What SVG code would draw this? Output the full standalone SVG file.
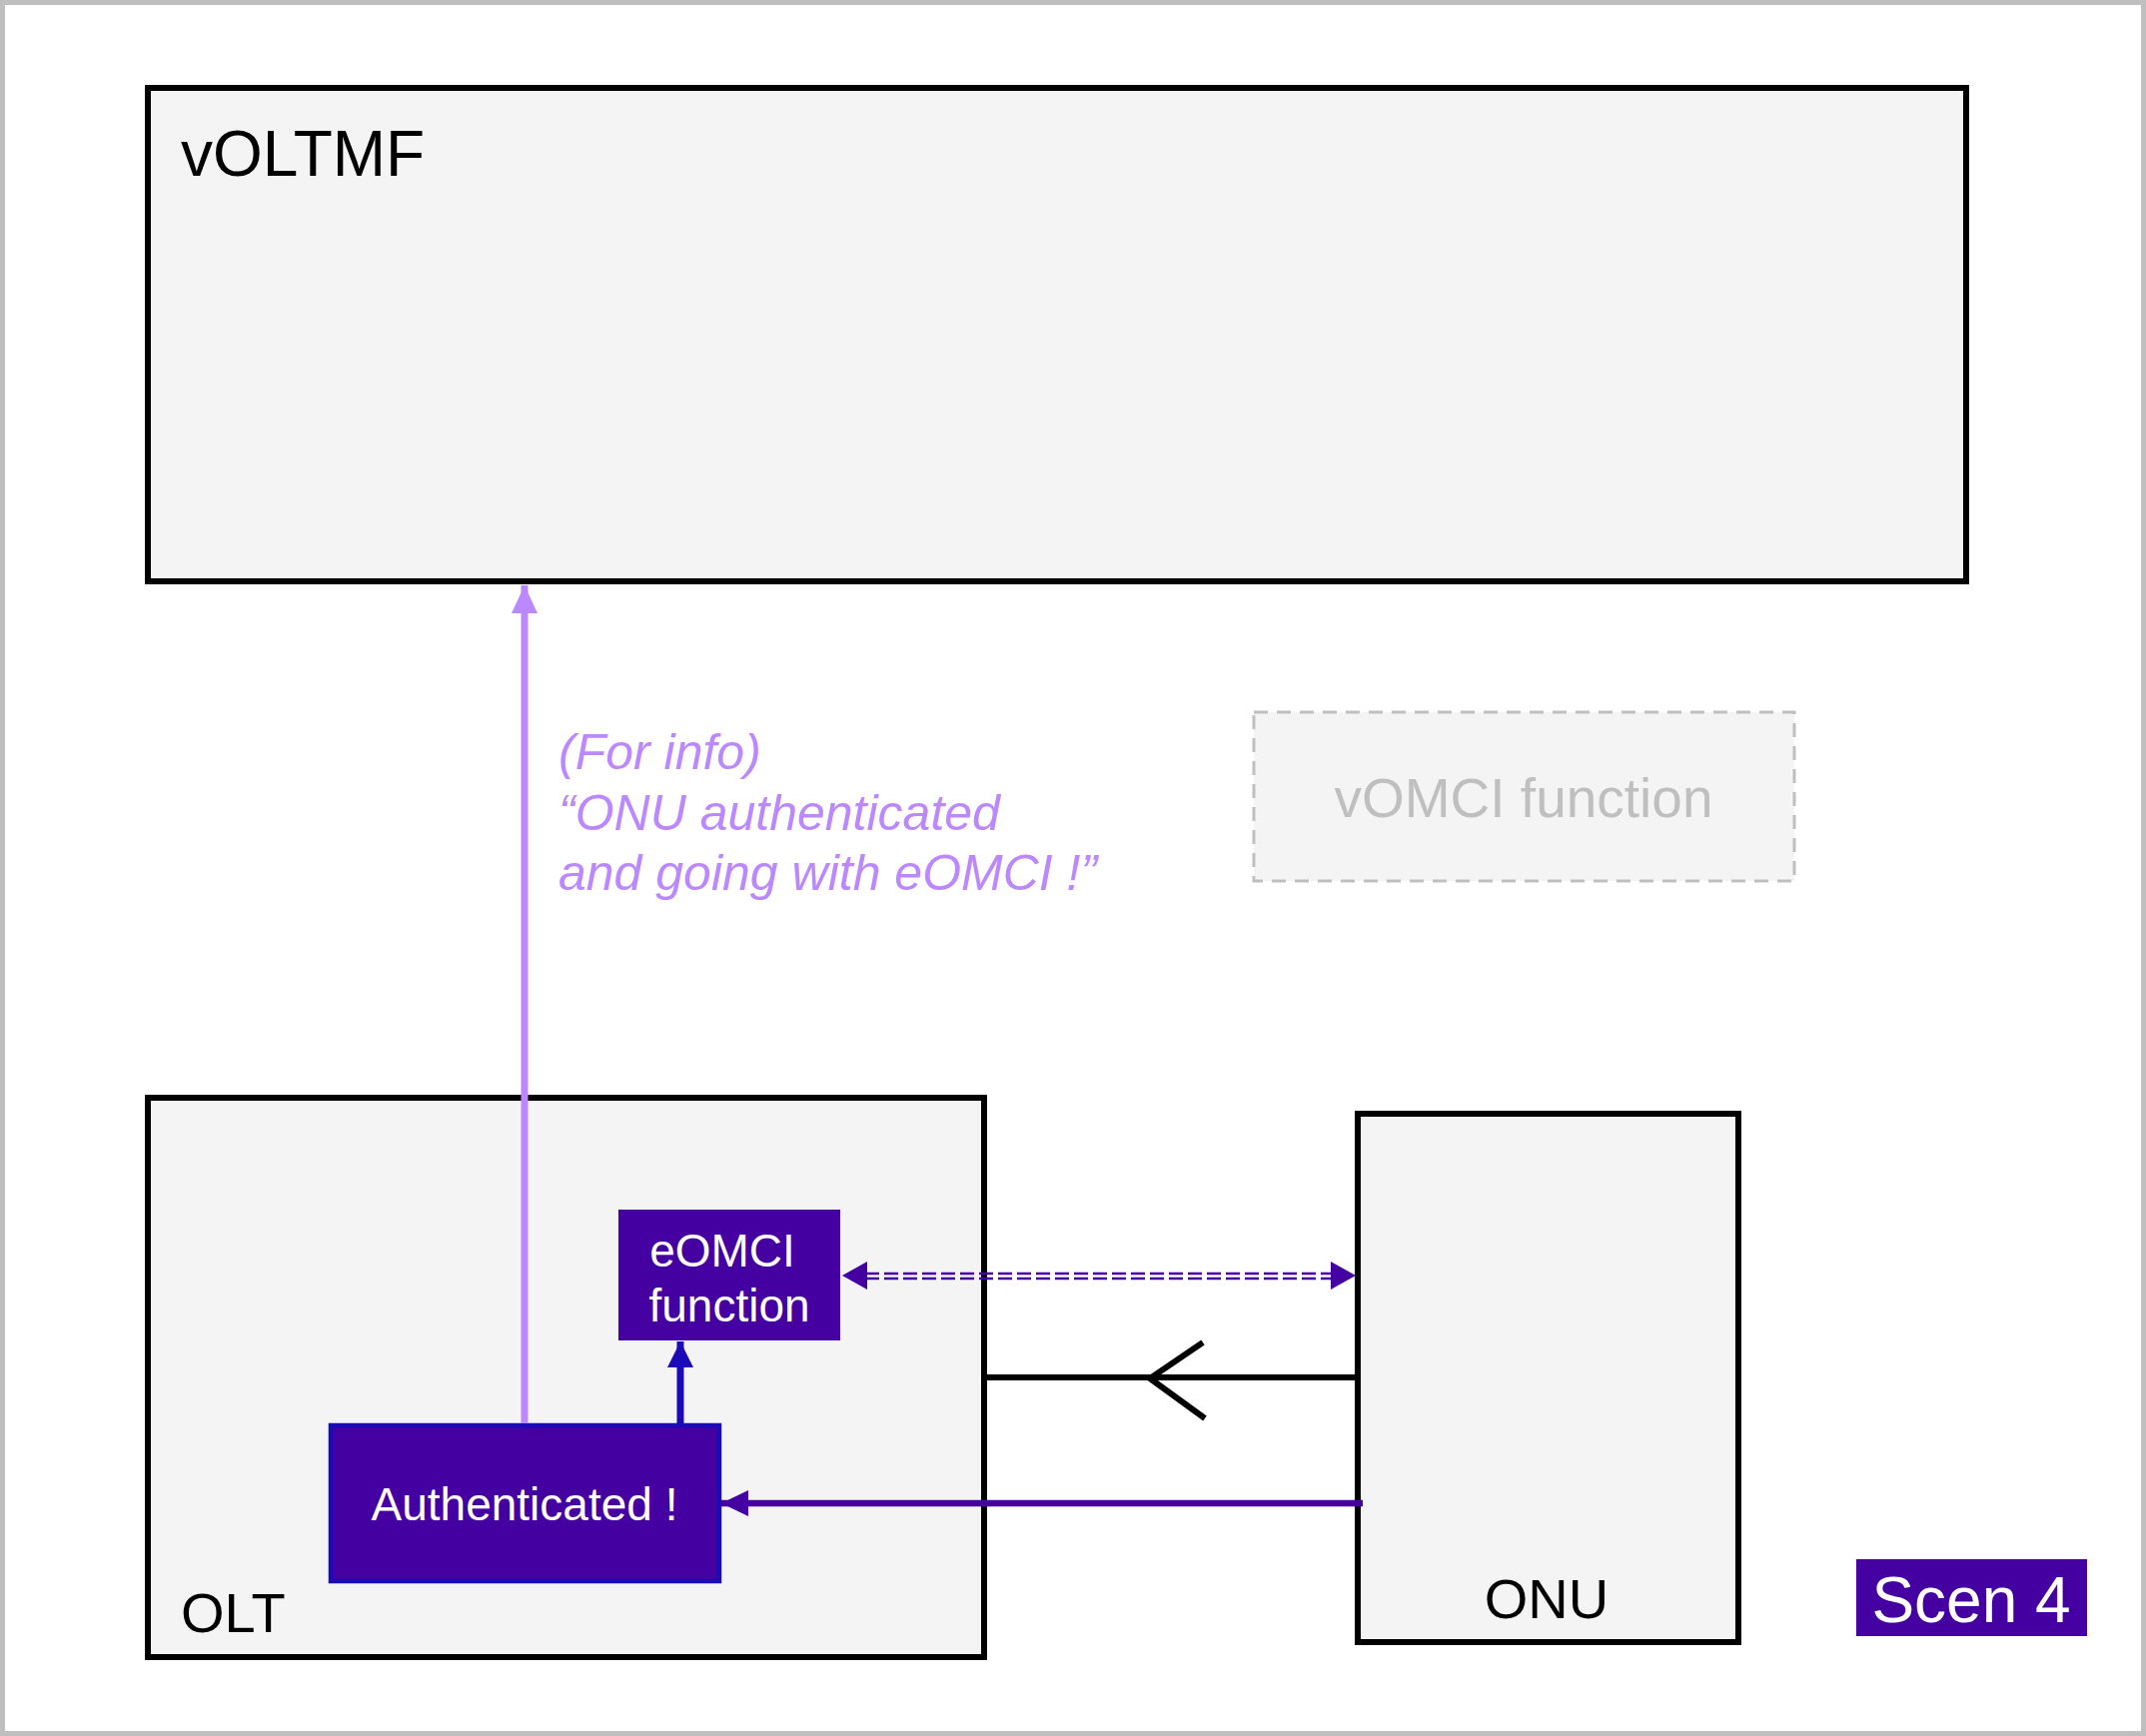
<svg xmlns="http://www.w3.org/2000/svg" width="2148" height="1738" viewBox="0 0 2148 1738">
<defs>
<style>
.box{fill:#f4f4f4;stroke:#000;stroke-width:6}
.lbl{font-family:"Liberation Sans",Arial,sans-serif;fill:#000}
.wt{font-family:"Liberation Sans",Arial,sans-serif;fill:#fff}
.info{font-family:"Liberation Sans",Arial,sans-serif;font-style:italic;fill:#bb88ff;font-size:50px}
</style>
<marker id="mLight" viewBox="0 0 28 26" refX="28" refY="13" markerWidth="28" markerHeight="26" markerUnits="userSpaceOnUse" orient="auto"><path d="M0,0 L28,13 L0,26 z" fill="#bb88ff"/></marker>
<marker id="mBlue" viewBox="0 0 26 26" refX="26" refY="13" markerWidth="26" markerHeight="26" markerUnits="userSpaceOnUse" orient="auto"><path d="M0,0 L26,13 L0,26 z" fill="#1a0ab8"/></marker>
<marker id="mPurp" viewBox="0 0 27 26" refX="27" refY="13" markerWidth="27" markerHeight="26" markerUnits="userSpaceOnUse" orient="auto"><path d="M0,0 L27,13 L0,26 z" fill="#4400a0"/></marker>
</defs>
<rect x="2.5" y="2.5" width="2143" height="1733" fill="#fff" stroke="#bfbfbf" stroke-width="5"/>

<g id="vOLTMF">
<rect class="box" x="148" y="88" width="1820" height="494"/>
<text class="lbl" x="181" y="176" font-size="64">vOLTMF</text>
</g>

<g id="vOMCI">
<rect x="1255" y="713" width="541" height="169" fill="#f4f4f4" stroke="#bfbfbf" stroke-width="3" stroke-dasharray="14,9"/>
<text x="1525" y="818" font-size="55" text-anchor="middle" font-family="Liberation Sans, Arial, sans-serif" fill="#bfbfbf">vOMCI function</text>
</g>

<g id="OLT">
<rect class="box" x="148" y="1099" width="837" height="560"/>
<text class="lbl" x="181" y="1634" font-size="56">OLT</text>
</g>

<g id="ONU">
<rect class="box" x="1359" y="1115" width="381" height="529"/>
<text class="lbl" x="1548" y="1620" font-size="56" text-anchor="middle">ONU</text>
</g>

<g id="eOMCI">
<rect x="619" y="1211" width="222" height="131" fill="#4400a0"/>
<text class="wt" x="723" y="1268" font-size="46" text-anchor="middle">eOMCI</text>
<text class="wt" x="730" y="1323" font-size="46" text-anchor="middle">function</text>
</g>

<g id="Authenticated">
<rect x="331" y="1427" width="389" height="156" fill="#4400a0" stroke="#1a0ab8" stroke-width="4.5"/>
<text class="wt" x="525" y="1522" font-size="46" text-anchor="middle">Authenticated !</text>
</g>

<g id="Scen4">
<rect x="1858" y="1561" width="231" height="77" fill="#4400a0"/>
<text class="wt" x="1973" y="1624" font-size="64" text-anchor="middle">Scen 4</text>
</g>

<g id="connectors">
<line x1="525" y1="1425" x2="525" y2="586" stroke="#bb88ff" stroke-width="7" marker-end="url(#mLight)"/>
<line x1="681" y1="1425" x2="681" y2="1343" stroke="#1a0ab8" stroke-width="7" marker-end="url(#mBlue)"/>
<g stroke="#4400a0" stroke-width="2.5" stroke-dasharray="14,5" fill="none">
<line x1="866" y1="1275" x2="1334" y2="1275"/>
<line x1="866" y1="1280" x2="1334" y2="1280"/>
</g>
<path d="M843,1277 L868,1263 L868,1291 z" fill="#4400a0"/>
<path d="M1357,1277 L1332,1263 L1332,1291 z" fill="#4400a0"/>
<line x1="985" y1="1379" x2="1359" y2="1379" stroke="#000" stroke-width="6"/>
<polyline points="1204,1344 1151,1380 1206,1420" fill="none" stroke="#000" stroke-width="6"/>
<line x1="1364" y1="1505" x2="722" y2="1505" stroke="#4400a0" stroke-width="6.5" marker-end="url(#mPurp)"/>
<text class="info" x="559" y="770">(For info)</text>
<text class="info" x="559" y="831">“ONU authenticated</text>
<text class="info" x="559" y="891">and going with eOMCI !”</text>
</g>
</svg>
